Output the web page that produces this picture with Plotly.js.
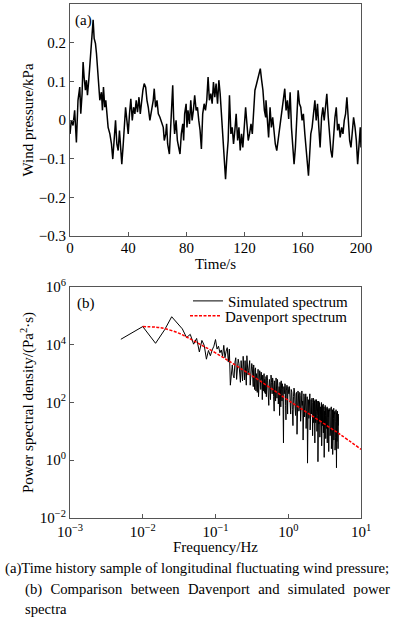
<!DOCTYPE html>
<html>
<head>
<meta charset="utf-8">
<script src="https://cdn.plot.ly/plotly-3.0.1.min.js"></script>
<style>
  html, body { margin: 0; padding: 0; background: #fff; }
  #chart { position: absolute; left: 0; top: 0; width: 395px; height: 555px; }
  .cap { position: absolute; font-family: "Liberation Serif", "Times New Roman", serif; font-size: 14.7px; line-height: 20px; color: #000; }
  #cap1 { left: 5px; top: 558px; white-space: nowrap; }
  #cap2 { left: 25px; top: 579px; width: 365px; text-align: justify; }
</style>
</head>
<body>
<div id="chart"></div>
<div class="cap" id="cap1">(a)Time history sample of longitudinal fluctuating wind pressure;</div>
<div class="cap" id="cap2">(b) Comparison between Davenport and simulated power spectra</div>
<script>
// ---- (a) time history of wind pressure (kPa) ----
const timeS = [0, 0.9, 2.1, 3.2, 4.4, 5.5, 6.7, 7.4, 8.3, 9.0, 9.7, 10.6, 11.3, 12.0, 12.9, 13.6, 14.7, 15.9, 16.6, 17.5,
  18.2, 18.9, 19.8, 20.5, 21.6, 22.3, 23.0, 23.9, 24.6, 25.5, 26.2, 27.4, 28.5, 29.4, 30.3, 31.3, 32.2, 33.1, 34.0, 35.0,
  35.6, 36.6, 37.2, 38.2, 39.1, 40.0, 40.9, 41.8, 42.8, 43.7, 44.6, 45.5, 46.4, 47.4, 48.3, 49.2, 50.1, 51.0, 52.0, 52.9,
  53.8, 54.9, 56.1, 57.2, 57.9, 58.8, 59.8, 60.7, 61.8, 63.0, 64.1, 64.8, 65.8, 66.4, 67.1,
  68.3, 69.2, 70.6, 71.2, 71.9, 72.9, 73.8, 74.7, 75.6, 76.5, 77.5, 78.1, 78.8, 79.8, 80.4, 81.1, 82.1, 83.0, 83.9, 84.8,
  85.7, 86.7, 87.6, 88.5, 89.4, 90.3, 91.2, 92.2, 93.1, 94.0, 94.9, 95.8, 96.8, 97.7, 98.6, 99.5, 100.4, 101.4, 102.3, 103.2,
  104.1, 105.0, 106.0, 106.9, 107.8, 108.7, 109.6, 110.6, 111.5, 112.4, 113.3, 114.2, 115.2, 116.1, 117.0, 117.9, 118.8, 119.8, 120.7, 121.6,
  122.5, 123.4, 124.4, 125.3, 126.2, 127.1, 128.0, 129.0, 129.9, 130.8, 131.7, 132.6, 133.6, 134.5,
  134.7, 135.6, 136.5, 137.5, 138.4, 139.3, 140.2, 141.1, 142.1, 143.0, 143.9, 145.0, 145.7, 146.7, 147.6, 148.5, 149.4, 150.3, 151.3, 152.2,
  153.1, 154.0, 154.9, 155.9, 156.8, 157.7, 158.6, 159.5, 160.4, 161.4, 162.3, 163.2, 163.9, 164.6, 165.5, 166.4, 167.3, 168.3, 169.2, 170.1,
  171.0, 171.9, 172.9, 173.8, 174.7, 175.6, 176.5, 177.5, 178.4, 179.3, 180.2, 181.1, 182.1, 183.0, 183.9, 184.8, 185.7, 186.7, 187.6, 188.5,
  189.4, 190.3, 191.3, 192.2, 193.1, 194.0, 194.9, 195.9, 196.8, 197.7, 198.6, 199.5, 200];
const windPressure = [-0.036, -0.001, -0.014, 0.025, -0.058, 0.051, 0.085, 0.016, 0.068, 0.150, 0.111, 0.077, 0.103, 0.064, 0.103, 0.142, 0.181, 0.259, 0.211, 0.198,
  0.172, 0.137, 0.068, 0.051, 0.072, 0.025, 0.085, 0.033, 0.051, 0.003, -0.019, -0.036, -0.062, -0.101, -0.053, -0.001, -0.062, -0.079, -0.027, -0.088,
  -0.114, -0.062, -0.019, 0.033, -0.001, -0.036, 0.016, 0.055, -0.001, 0.033, 0.016, 0.051, 0.020, 0.059, 0.016, 0.051, 0.077, 0.094, 0.085, 0.051,
  0.033, -0.001, 0.025, 0.051, 0.081, 0.033, 0.051, 0.016, 0.007, -0.010, -0.019, -0.053, -0.036, -0.010, -0.062,
  -0.088, -0.019, 0.090, 0.007, -0.036, -0.001, -0.053, -0.071, -0.088, -0.036, -0.010, -0.053, 0.016, 0.042, -0.019, 0.025, -0.010, 0.051, -0.001, 0.025,
  0.064, 0.025, 0.033, -0.001, -0.027, -0.075, 0.016, 0.042, 0.025, 0.051, 0.111, 0.051, 0.068, 0.042, 0.098, 0.059, 0.094, 0.042, 0.103, 0.068,
  0.007, -0.045, -0.088, -0.153, -0.097, -0.053, 0.064, -0.036, -0.019, -0.062, -0.027, 0.016, -0.053, -0.019, -0.079, -0.036, -0.071, -0.001, 0.033, -0.010,
  -0.053, -0.036, -0.010, -0.036, 0.025, 0.077, 0.090, 0.103, 0.120, 0.133, 0.103, 0.077, 0.025, 0.007,
  0.051, -0.001, -0.045, 0.033, -0.019, 0.007, -0.036, -0.062, -0.079, -0.053, -0.019, -0.001, 0.025, 0.051, 0.081, 0.025, 0.051, 0.003, 0.072, -0.019,
  -0.062, -0.114, -0.071, 0.007, 0.077, 0.042, 0.033, -0.001, 0.016, -0.036, -0.079, -0.114, -0.144, -0.097, -0.036, -0.019, 0.016, 0.051, -0.001, 0.042,
  -0.019, -0.071, 0.007, 0.033, -0.001, 0.042, 0.068, 0.007, -0.053, -0.079, -0.097, -0.036, 0.007, 0.033, -0.027, -0.010, -0.045, -0.019, -0.036, -0.001,
  0.016, 0.059, -0.019, -0.053, -0.071, -0.036, 0.007, -0.019, -0.053, -0.114, -0.053, -0.019, -0.071];

// ---- (b) simulated power spectrum: main grid (Hz) and log10 PSD (Pa^2·s) ----
const freqSimMain = [0.005, 0.010, 0.015, 0.020, 0.025, 0.030, 0.035, 0.040, 0.045, 0.050, 0.055, 0.060, 0.065, 0.070, 0.075, 0.080,
  0.085, 0.090, 0.095, 0.100, 0.105, 0.110, 0.115, 0.120, 0.125, 0.130, 0.135, 0.140, 0.145, 0.150, 0.155,
  0.16, 0.17, 0.18, 0.19, 0.20, 0.21, 0.22, 0.23, 0.24, 0.25, 0.26, 0.27, 0.28, 0.29, 0.30, 0.31, 0.32, 0.33, 0.34, 0.35,
  0.36, 0.37, 0.38, 0.39, 0.40, 0.41, 0.42, 0.43, 0.44, 0.45, 0.46, 0.47, 0.48, 0.49, 0.50,
  0.52, 0.54, 0.56, 0.58, 0.60, 0.62, 0.64, 0.66, 0.68, 0.70, 0.72, 0.74, 0.76, 0.78, 0.80, 0.82, 0.84, 0.86, 0.88, 0.90,
  0.92, 0.94, 0.96, 0.98, 1.00,
  1.04, 1.08, 1.12, 1.16, 1.20, 1.24, 1.28, 1.32, 1.36, 1.40, 1.44, 1.48, 1.52, 1.56, 1.60, 1.64, 1.68, 1.72, 1.76, 1.80,
  1.84, 1.88, 1.92, 1.96, 2.00, 2.04, 2.08, 2.12, 2.16, 2.20, 2.24, 2.28, 2.32, 2.36, 2.40, 2.44, 2.48, 2.52, 2.56, 2.60,
  2.64, 2.68, 2.72, 2.76, 2.80, 2.84, 2.88, 2.92, 2.96, 3.00, 3.04, 3.08, 3.12, 3.16, 3.20, 3.24, 3.28, 3.32, 3.36, 3.40,
  3.44, 3.48, 3.52, 3.56, 3.60, 3.64, 3.68, 3.72, 3.76, 3.80, 3.84, 3.88, 3.92, 3.96, 4.00, 4.04, 4.08, 4.12, 4.16, 4.20,
  4.24, 4.28, 4.32, 4.36, 4.40, 4.44, 4.48, 4.52, 4.56, 4.60, 4.64, 4.68, 4.72, 4.76, 4.80, 4.84, 4.88];
const logPsdSimMain = [4.19, 4.63, 4.05, 4.52, 4.97, 4.72, 4.55, 4.25, 4.36, 4.02, 4.22, 3.75, 4.15, 3.98, 3.50, 3.80,
  3.62, 3.82, 3.95, 4.18, 3.85, 3.95, 3.72, 3.82, 3.60, 3.98, 3.55, 3.78, 3.90, 3.40, 3.85,
  2.60, 3.30, 2.85, 3.55, 3.05, 3.35, 2.70, 3.20, 3.60, 2.78, 3.15, 3.62, 2.95, 3.30, 2.60, 3.05, 3.25, 2.55, 2.95, 3.15,
  2.40, 2.85, 3.05, 2.20, 2.75, 3.00, 2.45, 2.80, 2.10, 2.70, 2.95, 2.35, 2.65, 2.85, 2.20,
  2.75, 1.90, 2.65, 2.95, 2.30, 2.70, 1.70, 2.55, 2.85, 2.15, 2.60, 2.40, 1.55, 2.50, 2.75, 2.05, 2.45, 0.60, 2.30, 2.65,
  1.90, 2.40, 2.60, 1.60, 2.35,
  2.55, 1.60, 2.35, 1.20, 2.50, 1.85, 2.30, 0.90, 2.40, 1.70, 2.35, 1.35, 2.25, 1.90, 0.70, 2.30, 1.50, 2.20, 1.10, 2.15,
  -0.10, 2.10, 1.45, 2.25, 1.05, 1.95, 1.60, 2.15, 0.85, 2.00, 1.30, 2.05, 0.60, 1.95, 1.45, 2.10, 1.00, 1.85, -0.05, 1.90,
  1.25, 2.00, 0.80, 1.80, 1.35, 1.95, 0.50, 1.75, 1.20, 1.90, 0.95, 1.80, 0.10, 1.70, 1.30, 1.85, 0.75, 1.60, 1.10, 1.80,
  0.60, 1.70, 1.20, 1.75, 0.30, 1.55, 1.00, 1.70, 0.85, 1.60, 1.15, 1.75, 0.40, 1.50, 0.90, 1.65, 0.20, 1.45, 1.05, 1.70,
  0.70, 1.55, 0.95, 1.60, 0.35, 1.40, 0.80, 1.50, 1.00, -0.26, 1.45, 0.65, 1.55, 0.90, 1.35, 0.40, 1.20];
// in-between spectral lines (dense high-frequency part)
const freqSimMid = [0.165, 0.175, 0.185, 0.195, 0.205, 0.215, 0.225, 0.235, 0.245, 0.255, 0.265, 0.275, 0.285, 0.295, 0.305, 0.315, 0.325,
  0.335, 0.345, 0.355, 0.365, 0.375, 0.385, 0.395, 0.405, 0.415, 0.425, 0.435, 0.445, 0.455, 0.465, 0.475, 0.485, 0.495,
  0.51, 0.53, 0.55, 0.57, 0.59, 0.61, 0.63, 0.65, 0.67, 0.69, 0.71, 0.73, 0.75, 0.77, 0.79, 0.81, 0.83, 0.85, 0.87, 0.89,
  0.91, 0.93, 0.95, 0.97, 0.99,
  1.02, 1.06, 1.10, 1.14, 1.18, 1.22, 1.26, 1.30, 1.34, 1.38, 1.42, 1.46, 1.50, 1.54, 1.58, 1.62, 1.66, 1.70, 1.74, 1.78,
  1.82, 1.86, 1.90, 1.94, 1.98, 2.02, 2.06, 2.10, 2.14, 2.18, 2.22, 2.26, 2.30, 2.34, 2.38, 2.42, 2.46, 2.50, 2.54, 2.58,
  2.62, 2.66, 2.70, 2.74, 2.78, 2.82, 2.86, 2.90, 2.94, 2.98, 3.02, 3.06, 3.10, 3.14, 3.18, 3.22, 3.26, 3.30, 3.34, 3.38,
  3.42, 3.46, 3.50, 3.54, 3.58, 3.62, 3.66, 3.70, 3.74, 3.78, 3.82, 3.86, 3.90, 3.94, 3.98, 4.02, 4.06, 4.10, 4.14, 4.18,
  4.22, 4.26, 4.30, 4.34, 4.38, 4.42, 4.46, 4.50, 4.54, 4.58, 4.62, 4.66, 4.70, 4.74, 4.78, 4.82, 4.86];
const logPsdSimMid = [3.10, 2.95, 3.40, 2.80, 3.50, 2.95, 3.45, 2.75, 3.30, 3.45, 2.60, 3.35, 3.10, 3.45, 2.85, 3.35, 2.90,
  3.30, 2.45, 3.20, 3.00, 2.35, 3.15, 2.90, 3.10, 2.55, 3.05, 2.90, 2.95, 2.40, 3.00, 2.80, 2.30, 2.90,
  2.95, 2.35, 2.80, 2.10, 2.70, 2.85, 2.20, 2.75, 2.05, 2.60, 2.80, 1.95, 2.55, 2.70, 1.85, 2.50, 2.65, 1.75, 2.55, 2.40,
  2.60, 1.40, 2.50, 2.30, 2.55,
  2.30, 2.00, 2.45, 1.75, 2.20, 2.40, 1.55, 2.35, 2.10, 2.30, 1.80, 2.25, 1.60, 2.40, 2.05, 1.45, 2.20, 1.90, 2.30, 1.70,
  2.20, 1.50, 2.05, 1.80, 2.30, 1.40, 2.10, 1.75, 2.00, 1.60, 2.15, 1.65, 1.95, 2.10, 1.30, 2.00, 1.70, 2.05, 1.55, 1.85,
  2.05, 1.60, 1.95, 1.15, 1.85, 1.60, 2.00, 1.40, 1.90, 1.55, 1.95, 1.40, 1.85, 1.60, 1.05, 1.90, 1.55, 1.80, 1.35, 1.70,
  1.85, 1.25, 1.80, 1.50, 1.70, 0.95, 1.75, 1.45, 1.80, 1.30, 1.70, 1.50, 1.85, 1.20, 1.65, 1.40, 1.75, 1.10, 1.60, 1.45,
  1.80, 1.25, 1.65, 1.45, 1.70, 0.90, 1.60, 1.35, 1.75, 1.55, 1.20, 1.65, 1.40, 1.70, 0.85, 1.50, 1.60];

// ---- (b) Davenport target spectrum ----
const freqDav = [0.01, 0.015, 0.02, 0.03, 0.04, 0.06, 0.1, 0.2, 0.5, 1, 2, 5, 10];
const psdDav = [42700, 40700, 36300, 26300, 18600, 10700, 5250, 1780, 398, 120, 38, 8.3, 2.4];

const xTicksA = [0, 40, 80, 120, 160, 200];
const yTicksA = [-0.3, -0.2, -0.1, 0, 0.1, 0.2, 0.3];
const yTickTextA = ['\u22120.3', '\u22120.2', '\u22120.1', '0', '0.1', '0.2', '0.3'];
const xTicksB = [0.001, 0.01, 0.1, 1, 10];
const xTickTextB = ['10<sup>\u22123</sup>', '10<sup>\u22122</sup>', '10<sup>\u22121</sup>', '10<sup>0</sup>', '10<sup>1</sup>'];
const yTicksB = [0.01, 1, 100, 1e4, 1e6];
const yTickTextB = ['10<sup>\u22122</sup>', '10<sup>0</sup>', '10<sup>2</sup>', '10<sup>4</sup>', '10<sup>6</sup>'];

// merge the two sets of spectral lines in frequency order
const simPairs = freqSimMain.map((f, i) => [f, logPsdSimMain[i]])
  .concat(freqSimMid.map((f, i) => [f, logPsdSimMid[i]]))
  .sort((a, b) => a[0] - b[0]);
const freqSim = simPairs.map(p => p[0]);
const psdSim = simPairs.map(p => Math.pow(10, p[1]));

const serif = 'Liberation Serif, Times New Roman, serif';
const axCommon = {
  showline: true, mirror: true, linecolor: '#555', linewidth: 1,
  ticks: 'inside', ticklen: 4, tickcolor: '#555', tickwidth: 1,
  showgrid: false, zeroline: false,
  tickfont: { family: serif, size: 15, color: '#000' }
};

const traces = [
  { x: timeS, y: windPressure, type: 'scatter', mode: 'lines', xaxis: 'x', yaxis: 'y',
    line: { color: '#000', width: 1.5 }, showlegend: false },
  { x: freqSim, y: psdSim, type: 'scatter', mode: 'lines', xaxis: 'x2', yaxis: 'y2',
    name: 'Simulated spectrum', line: { color: '#000', width: 1 }, legend: 'legend' },
  { x: freqDav, y: psdDav, type: 'scatter', mode: 'lines', xaxis: 'x2', yaxis: 'y2',
    name: 'Davenport spectrum', line: { color: '#ff0000', width: 1.5, dash: '3px,1.5px', shape: 'spline' }, legend: 'legend2' }
];

const legendCommon = {
  x: 0.9725, xanchor: 'right', yanchor: 'top',
  bgcolor: 'rgba(0,0,0,0)', borderwidth: 0,
  font: { family: serif, size: 15, color: '#000' }
};

const layout = {
  width: 395, height: 555,
  margin: { l: 70, r: 34, t: 4, b: 37 },
  paper_bgcolor: '#fff', plot_bgcolor: '#fff',
  font: { family: serif, size: 15, color: '#000' },
  xaxis: Object.assign({}, axCommon, {
    domain: [0, 1], anchor: 'y', range: [0, 200], tickvals: xTicksA, ticklabelstandoff: -2,
    title: { text: 'Time/s', font: { family: serif, size: 15 }, standoff: 0 }
  }),
  yaxis: Object.assign({}, axCommon, {
    domain: [0.5486, 1], anchor: 'x', range: [-0.3, 0.3], tickvals: yTicksA, ticktext: yTickTextA,
    title: { text: 'Wind pressure/kPa', font: { family: serif, size: 15 }, standoff: 1 }
  }),
  xaxis2: Object.assign({}, axCommon, {
    domain: [0, 1], anchor: 'y2', type: 'log', range: [-3, 1], tickvals: xTicksB, ticktext: xTickTextB,
    title: { text: 'Frequency/Hz', font: { family: serif, size: 15 }, standoff: 1 }
  }),
  yaxis2: Object.assign({}, axCommon, {
    domain: [0, 0.4494], anchor: 'x2', type: 'log', range: [-2, 6], tickvals: yTicksB, ticktext: yTickTextB,
    title: { text: 'Power spectral density/(Pa<sup>2</sup>\u00b7s)', font: { family: serif, size: 15 }, standoff: 2 }
  }),
  showlegend: true,
  legend: Object.assign({}, legendCommon, { y: 0.454 }),
  legend2: Object.assign({}, legendCommon, { y: 0.425 }),
  annotations: [
    { text: '(a)', xref: 'x domain', yref: 'y domain', x: 0.012, y: 0.975, xanchor: 'left', yanchor: 'top',
      showarrow: false, font: { family: serif, size: 15 } },
    { text: '(b)', xref: 'x2 domain', yref: 'y2 domain', x: 0.018, y: 0.975, xanchor: 'left', yanchor: 'top',
      showarrow: false, font: { family: serif, size: 15 } }
  ]
};

Plotly.newPlot('chart', traces, layout, { displayModeBar: false, staticPlot: true });
</script>
</body>
</html>
